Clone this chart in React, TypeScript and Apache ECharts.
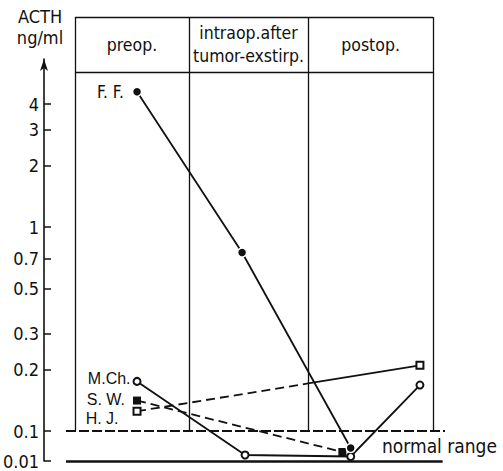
import React, { useEffect, useRef } from "react";
import * as echarts from "echarts";

// ---- data ----
const columnNames = ["preop.", "intraop.after\ntumor-exstirp.", "postop."];
const columnBounds = [0, 0.955, 1.953, 3];

const tickValues = [0.01, 0.1, 0.2, 0.3, 0.5, 0.7, 1, 2, 3, 4];
const tickLabels = ["0.01", "0.1", "0.2", "0.3", "0.5", "0.7", "1", "2", "3", "4"];
const normalRange = [0.01, 0.1];

const ffX = [0.52, 1.4, 2.31];
const ffY = [4.6, 0.75, 0.049];
const mchX = [0.52, 1.425, 2.31, 2.89];
const mchY = [0.175, 0.028, 0.0235, 0.168];
const swX = [0.52, 2.24];
const swY = [0.141, 0.037];
const hjX = [0.52, 2.89];
const hjY = [0.125, 0.21];

// ---- scale: log above 0.1, compressed linear break between 0.1 and 0.01 ----
const PX_PER_DECADE = 204;
const BREAK = 30 / PX_PER_DECADE;
const toScale = (v: number) =>
  v >= 0.1 ? Math.log10(v) : -1 - ((0.1 - v) / 0.09) * BREAK;

const W = 503;
const H = 471;
const MAIN_TOP = 17;
const MAIN_BOTTOM = 6;
const AXIS_TOP = 59;
const AXIS_BOTTOM = 10;
const Y_MIN = toScale(0.01);
const Y_MIN_MAIN = Y_MIN - (AXIS_BOTTOM - MAIN_BOTTOM) / PX_PER_DECADE;
const Y_MAX_MAIN = Y_MIN_MAIN + (H - MAIN_TOP - MAIN_BOTTOM) / PX_PER_DECADE;
const Y_MAX_AXIS = Y_MIN + (H - AXIS_TOP - AXIS_BOTTOM) / PX_PER_DECADE;
const HEADER_Y = Y_MAX_MAIN - 55 / PX_PER_DECADE;

const NARROW = "'Liberation Sans Narrow', 'DejaVu Sans Condensed', sans-serif";
const REG = "'Liberation Sans', 'DejaVu Sans', sans-serif";
const INK = "#111";

const pts = (xs: number[], ys: number[]) => xs.map((x, i) => [x, toScale(ys[i])]);

function withLabel(data: number[][], text: string, opts: any) {
  return data.map((d, i) =>
    i === 0
      ? {
          value: d,
          label: {
            show: true,
            position: "left",
            formatter: text,
            color: INK,
            fontSize: 16,
            fontFamily: REG,
            ...opts,
          },
        }
      : { value: d }
  );
}

export default function App() {
  const ref = useRef<HTMLDivElement>(null);

  useEffect(() => {
    if (!ref.current) return;
    const chart = echarts.init(ref.current, null, { renderer: "svg" });

    const tickScaled = tickValues.map(toScale);

    // H. J.: dashed up to the intraop/postop divider, solid afterwards
    const hjA = [hjX[0], toScale(hjY[0])];
    const hjB = [hjX[1], toScale(hjY[1])];
    const splitX = columnBounds[2];
    const t = (splitX - hjA[0]) / (hjB[0] - hjA[0]);
    const hjMid = [splitX, hjA[1] + t * (hjB[1] - hjA[1])];

    const lineBase = { color: INK, width: 1.8 };

    const option: any = {
      animation: false,
      backgroundColor: "#fff",
      grid: [
        { left: 66, right: 58, top: MAIN_TOP, bottom: MAIN_BOTTOM },
        { left: 43, right: W - 44, top: AXIS_TOP, bottom: AXIS_BOTTOM },
      ],
      xAxis: [
        { type: "value", gridIndex: 0, min: -0.075, max: 3.1, show: false },
        { type: "value", gridIndex: 1, min: 0, max: 1, show: false },
      ],
      yAxis: [
        { type: "value", gridIndex: 0, min: Y_MIN_MAIN, max: Y_MAX_MAIN, show: false },
        {
          type: "value",
          gridIndex: 1,
          min: Y_MIN,
          max: Y_MAX_AXIS,
          axisLine: {
            show: true,
            symbol: ["none", "arrow"],
            symbolSize: [6, 12],
            lineStyle: { color: INK, width: 1.6 },
          },
          axisTick: {
            show: true,
            inside: true,
            length: 7,
            customValues: tickScaled,
            lineStyle: { color: INK, width: 1.5 },
          },
          axisLabel: {
            show: true,
            customValues: tickScaled,
            margin: 5,
            color: INK,
            fontSize: 18,
            fontFamily: NARROW,
            formatter: (val: number) => {
              const i = tickScaled.findIndex((s) => Math.abs(s - val) < 1e-6);
              return i >= 0 ? tickLabels[i] : "";
            },
          },
          splitLine: { show: false },
        },
      ],
      graphic: [
        {
          type: "text",
          x: 40,
          y: 6,
          style: {
            text: "ACTH\nng/ml",
            align: "center",
            verticalAlign: "top",
            fontSize: 18,
            lineHeight: 21,
            fontFamily: NARROW,
            fill: INK,
          },
        },
        {
          type: "text",
          x: 382,
          y: 446,
          style: {
            text: "normal range",
            align: "left",
            verticalAlign: "middle",
            fontSize: 19,
            fontFamily: NARROW,
            fill: INK,
          },
        },
      ],
      series: [
        {
          type: "line",
          xAxisIndex: 0,
          yAxisIndex: 0,
          data: [],
          silent: true,
          z: 1,
          markLine: {
            silent: true,
            symbol: ["none", "none"],
            label: { show: false },
            lineStyle: { color: INK, width: 1.3, type: "solid" },
            data: [
              ...columnBounds.map((b) => [
                { coord: [b, toScale(normalRange[1])] },
                { coord: [b, Y_MAX_MAIN] },
              ]),
              [{ coord: [columnBounds[0], HEADER_Y] }, { coord: [columnBounds[3], HEADER_Y] }],
              [{ coord: [columnBounds[0], Y_MAX_MAIN] }, { coord: [columnBounds[3], Y_MAX_MAIN] }],
              {
                yAxis: toScale(normalRange[1]),
                lineStyle: { type: [10, 3], width: 2.2, color: INK },
              },
              [
                { coord: [-0.075, toScale(normalRange[0])], lineStyle: { type: "solid", width: 2.6, color: INK } },
                { coord: [3.08, toScale(normalRange[0])] },
              ],
            ],
          },
          markArea: {
            silent: true,
            itemStyle: { color: "rgba(0,0,0,0)" },
            label: {
              show: true,
              position: "inside",
              color: INK,
              fontSize: 17.5,
              lineHeight: 23,
              fontFamily: NARROW,
            },
            data: columnNames.map((n, i) => [
              { name: n, coord: [columnBounds[i], HEADER_Y] },
              { coord: [columnBounds[i + 1], Y_MAX_MAIN] },
            ]),
          },
        },
        {
          name: "F. F.",
          type: "line",
          z: 5,
          data: withLabel(pts(ffX, ffY), "F. F.", { distance: 8, fontFamily: NARROW, fontSize: 17 }),
          symbol: "circle",
          symbolSize: 9,
          itemStyle: { color: INK, borderColor: "#fff", borderWidth: 1.5 },
          lineStyle: lineBase,
        },
        {
          name: "M.Ch.",
          type: "line",
          z: 4,
          data: withLabel(pts(mchX, mchY), "M.Ch.", { distance: 2, offset: [0, -3] }),
          symbol: "emptyCircle",
          symbolSize: 7,
          itemStyle: { color: INK, borderWidth: 1.5 },
          lineStyle: lineBase,
        },
        {
          name: "S. W.",
          type: "line",
          z: 4,
          data: withLabel(pts(swX, swY), "S. W.", { distance: 8, offset: [0, -1] }),
          symbol: "rect",
          symbolSize: 8,
          itemStyle: { color: INK },
          lineStyle: { ...lineBase, type: [9, 5] },
        },
        {
          name: "H. J.",
          type: "line",
          z: 4,
          data: [
            {
              value: hjA,
              symbol: "emptyRect",
              symbolSize: 7,
              label: {
                show: true,
                position: "left",
                formatter: "H. J.",
                color: INK,
                fontSize: 16,
                fontFamily: REG,
                distance: 14,
                offset: [0, 7],
              },
            },
            { value: hjMid, symbol: "none" },
          ],
          symbol: "emptyRect",
          symbolSize: 7,
          itemStyle: { color: INK, borderWidth: 1.5 },
          lineStyle: { ...lineBase, type: [9, 5] },
        },
        {
          name: "H. J. postop",
          type: "line",
          z: 4,
          data: [
            { value: hjMid, symbol: "none" },
            { value: hjB, symbol: "emptyRect", symbolSize: 7 },
          ],
          symbol: "emptyRect",
          symbolSize: 7,
          itemStyle: { color: INK, borderWidth: 1.5 },
          lineStyle: lineBase,
        },
      ],
    };

    chart.setOption(option);
    return () => chart.dispose();
  }, []);

  return (
    <div
      ref={ref}
      style={{ position: "absolute", left: 0, top: 0, width: W, height: H, background: "#fff" }}
    />
  );
}
